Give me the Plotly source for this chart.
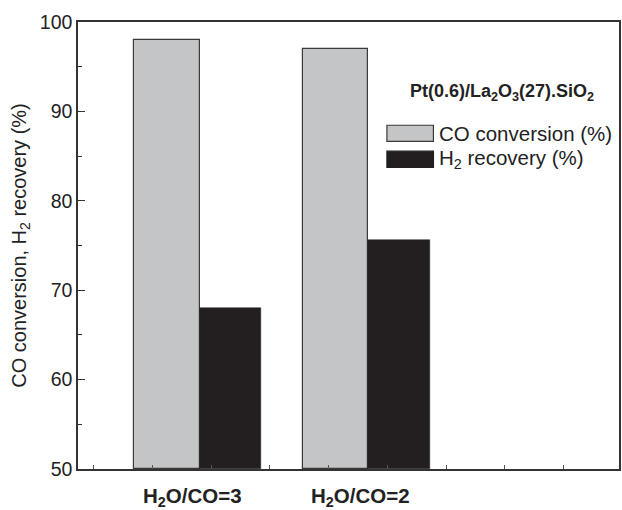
import plotly.graph_objects as go

categories = ["H<sub>2</sub>O/CO=3", "H<sub>2</sub>O/CO=2"]
cat_pos = [1, 2]
co_conversion = [98.0, 97.0]
h2_recovery = [68.0, 75.6]
series_names = ["CO conversion (%)", "H<sub>2</sub> recovery (%)"]
legend_title = "Pt(0.6)/La<sub>2</sub>O<sub>3</sub>(27).SiO<sub>2</sub>"
y_title = "CO conversion, H<sub>2</sub> recovery (%)"

FONT = "Liberation Sans, Arial, sans-serif"
GRAY = "#c4c5c6"
BLACK = "#231f20"
EDGE = "#3a3a3a"

fig = go.Figure()
fig.add_trace(go.Bar(
    x=cat_pos, y=[v - 50 for v in co_conversion], base=50,
    width=0.388, offset=-0.388,
    marker=dict(color=GRAY, line=dict(color=EDGE, width=1.2)),
    name=series_names[0], showlegend=False, hoverinfo="skip"))
fig.add_trace(go.Bar(
    x=cat_pos, y=[v - 50 for v in h2_recovery], base=50,
    width=0.365, offset=0,
    marker=dict(color=BLACK, line=dict(color=BLACK, width=0.5)),
    name=series_names[1], showlegend=False, hoverinfo="skip"))

# category labels
for p, lab in zip(cat_pos, categories):
    fig.add_annotation(x=p - 0.045, xref="x", y=0, yref="paper", yanchor="top",
                       yshift=-13, text="<b>" + lab + "</b>", showarrow=False,
                       font=dict(family=FONT, size=20.5, color="#222"), xanchor="center")

# legend (manual)
fig.add_annotation(x=0.61, xref="paper", y=0.842, yref="paper", text="<b>" + legend_title + "</b>",
                   showarrow=False, xanchor="left", yanchor="middle",
                   font=dict(family=FONT, size=18, color="#222"))
colors = [GRAY, BLACK]
edges = [EDGE, BLACK]
ys = [0.751, 0.693]
for c, e, yy, nm in zip(colors, edges, ys, series_names):
    fig.add_shape(type="rect", xref="paper", yref="paper",
                  x0=0.571, x1=0.657, y0=yy - 0.018, y1=yy + 0.018,
                  fillcolor=c, line=dict(color=e, width=1.2))
    fig.add_annotation(x=0.663, xref="paper", y=yy, yref="paper", text=nm,
                       showarrow=False, xanchor="left", yanchor="middle",
                       font=dict(family=FONT, size=20.5, color="#222"))

fig.update_layout(
    width=622, height=510,
    margin=dict(l=78, r=1, t=22, b=41),
    plot_bgcolor="white", paper_bgcolor="white",
    barmode="overlay", bargap=0,
    font=dict(family=FONT, color="#222"),
    xaxis=dict(range=[0.278, 3.49], tickmode="linear", tick0=0.37, dtick=0.349,
               ticks="inside", ticklen=4, tickcolor="#555", showticklabels=False,
               showline=True, linecolor="#333", linewidth=1.5, mirror=True,
               showgrid=False, zeroline=False),
    yaxis=dict(range=[50, 100], tickmode="linear", tick0=50, dtick=10,
               ticks="inside", ticklen=7, tickcolor="#333",
               minor=dict(ticks="inside", ticklen=4, dtick=5, tickcolor="#333"),
               tickfont=dict(family=FONT, size=19.5, color="#222"),
               showline=True, linecolor="#333", linewidth=1.5, mirror=True,
               showgrid=False, zeroline=False,
               title=dict(text=y_title, font=dict(family=FONT, size=20, color="#222"), standoff=8)),
)

fig.write_html("out.html")
